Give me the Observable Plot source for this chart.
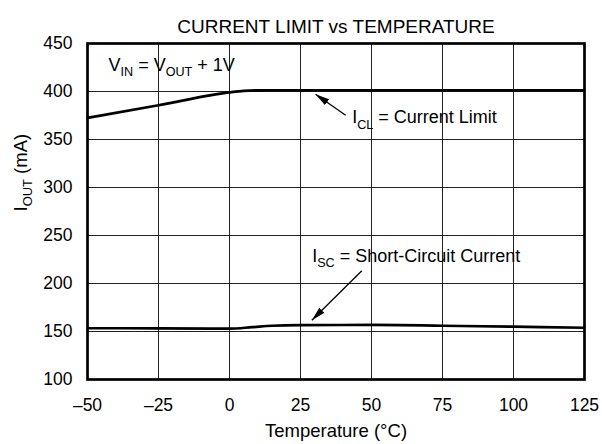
<!DOCTYPE html>
<html>
<head>
<meta charset="utf-8">
<script src="https://cdn.jsdelivr.net/npm/d3@7"></script>
<script src="https://cdn.jsdelivr.net/npm/@observablehq/plot@0.6"></script>
<style>
  html, body { margin: 0; padding: 0; background: #fff; }
  #chart { width: 602px; height: 444px; }
</style>
</head>
<body>
<div id="chart"></div>
<script>
// ---- data ----
const title = "CURRENT LIMIT vs TEMPERATURE";
const xLabel = "Temperature (\u00B0C)";
const yLabel = "I_{OUT} (mA)";
const xTicks = [-50, -25, 0, 25, 50, 75, 100, 125];
const yTicks = [100, 150, 200, 250, 300, 350, 400, 450];

// Current limit (mA) vs temperature (°C)
const clTemp    = [-50,   -25,   0,     5,     10,    15,    25,    50,    75,    100,   125];
const clCurrent = [372.5, 385.7, 399.0, 400.6, 401.2, 401.3, 401.3, 401.3, 401.3, 401.3, 401.3];

// Short-circuit current (mA) vs temperature (°C)
const scTemp    = [-50,   -25,   0,     8,     15,    25,    50,    75,    100,   125];
const scCurrent = [153.4, 153.3, 153.0, 154.5, 156.0, 156.6, 156.8, 156.0, 155.0, 153.9];

// annotations (data coordinates)
const noteText = ["V_{IN} = V_{OUT} + 1V", "I_{CL} = Current Limit", "I_{SC} = Short-Circuit Current"];
const noteTemp = [-42.6, 43.2, 29.1];
const noteCurr = [421, 366.7, 222.5];

const arrowFromTemp = [40.9, 46.6];
const arrowFromCurr = [375.3, 213.2];
const arrowToTemp   = [30.3, 29.0];
const arrowToCurr   = [397.2, 161.8];

// ---- tables ----
const cl = clTemp.map((t, i) => ({t, v: clCurrent[i]}));
const sc = scTemp.map((t, i) => ({t, v: scCurrent[i]}));
const notes = noteText.map((s, i) => ({s, t: noteTemp[i], v: noteCurr[i]}));
const arrows = arrowFromTemp.map((t, i) => ({t1: t, v1: arrowFromCurr[i], t2: arrowToTemp[i], v2: arrowToCurr[i]}));

const font = "'Liberation Sans', Arial, Helvetica, sans-serif";

const chart = Plot.plot({
  width: 602,
  height: 444,
  marginLeft: 87,
  marginRight: 18,
  marginTop: 43,
  marginBottom: 65,
  style: {fontFamily: font, fontSize: "17.5px", color: "#000", background: "#fff"},
  x: {
    domain: [-50, 125],
    ticks: xTicks,
    tickSize: 0,
    tickPadding: 19,
    tickFormat: d => d < 0 ? "\u2013" + Math.abs(d) : String(d),
    label: null
  },
  y: {
    domain: [100, 450],
    ticks: yTicks,
    tickSize: 0,
    tickPadding: 15,
    label: null
  },
  marks: [
    Plot.gridX(xTicks, {stroke: "#222", strokeOpacity: 1, strokeWidth: 1}),
    Plot.gridY(yTicks, {stroke: "#222", strokeOpacity: 1, strokeWidth: 1}),
    Plot.line(cl, {x: "t", y: "v", stroke: "#000", strokeWidth: 2.7, curve: "monotone-x"}),
    Plot.line(sc, {x: "t", y: "v", stroke: "#000", strokeWidth: 2.7, curve: "monotone-x"}),
    Plot.frame({stroke: "#000", strokeWidth: 2.7}),
    Plot.link(arrows, {x1: "t1", y1: "v1", x2: "t2", y2: "v2", stroke: "#000", strokeWidth: 1.3}),
    Plot.text(notes, {x: "t", y: "v", text: "s", textAnchor: "start", lineAnchor: "bottom", fontSize: 18}),
    Plot.text([title], {text: d => d, frameAnchor: "top", dy: -24.5, fontSize: 19}),
    Plot.text([xLabel], {text: d => d, frameAnchor: "bottom", dy: 57, fontSize: 18.5}),
    Plot.text([yLabel], {text: d => d, frameAnchor: "left", dx: -66.3, rotate: -90, fontSize: 18.5})
  ]
});

document.getElementById("chart").append(chart);

// ---- subscripts ----
const svg = d3.select(chart);
svg.selectAll("text").each(function () {
  const s = this.textContent;
  if (!s.includes("_{")) return;
  const fs = parseFloat(window.getComputedStyle(this).fontSize);
  const subFs = fs * 0.7;
  const shift = fs * 0.28;
  const el = d3.select(this);
  el.text(null);
  const parts = s.split(/_\{([^}]*)\}/);
  let down = false;
  parts.forEach((p, k) => {
    if (!p) return;
    const t = el.append("tspan").text(p);
    if (k % 2) { t.attr("font-size", subFs).attr("dy", shift); down = true; }
    else if (down) { t.attr("dy", -shift); down = false; }
  });
});

// ---- filled arrow heads ----
const defs = svg.insert("defs", ":first-child");
defs.append("marker")
  .attr("id", "head")
  .attr("viewBox", "-14 -4 14 8")
  .attr("refX", 0).attr("refY", 0)
  .attr("markerWidth", 14).attr("markerHeight", 8)
  .attr("markerUnits", "userSpaceOnUse")
  .attr("orient", "auto")
  .append("path")
  .attr("d", "M0,0L-14,-3.6L-14,3.6Z")
  .attr("fill", "#000");
svg.selectAll('g[aria-label="link"] path').attr("marker-end", "url(#head)");
</script>
</body>
</html>
